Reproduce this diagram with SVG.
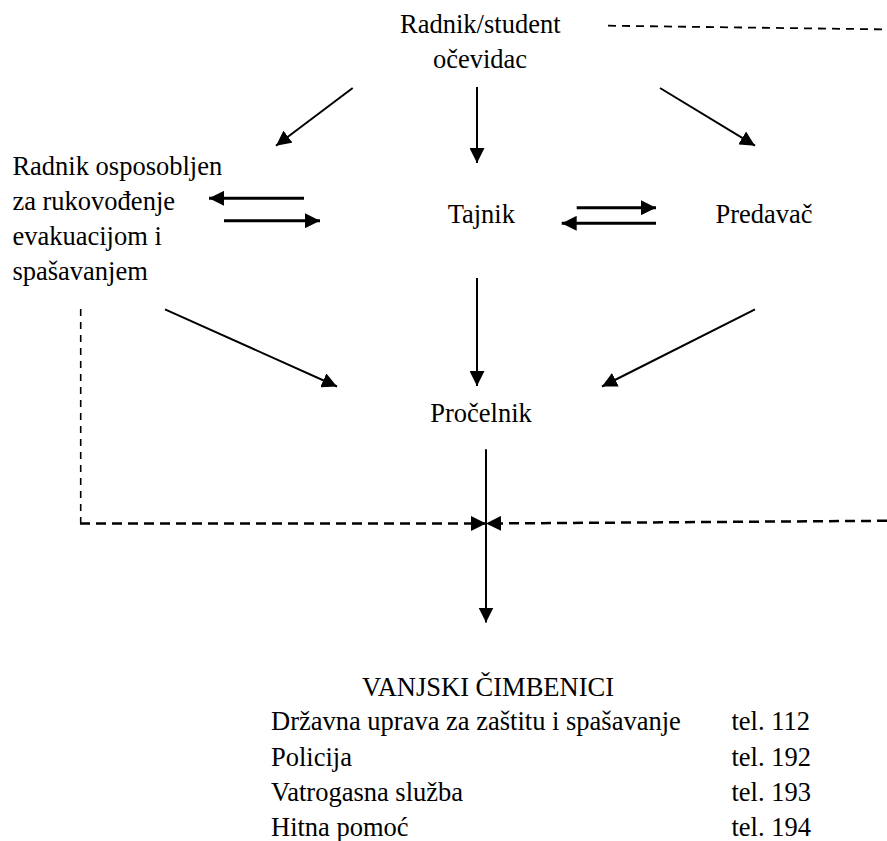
<svg xmlns="http://www.w3.org/2000/svg" width="887" height="841" viewBox="0 0 887 841" font-family="'Liberation Serif', 'DejaVu Serif', serif" font-size="26.5">
<style>
text{font-family:'Liberation Serif','DejaVu Serif',serif;font-size:26.5px;fill:#000}
.c{text-anchor:middle}
.ln{stroke:#000;fill:none;stroke-width:2}
.thick{stroke-width:3}
.dt{stroke:#000;fill:none;stroke-width:1.8;stroke-dasharray:8 6}
.dv{stroke:#000;fill:none;stroke-width:1.6;stroke-dasharray:7 6}
.dh{stroke:#000;fill:none;stroke-width:2.5;stroke-dasharray:10 6}
</style>
<defs>
<marker id="ah" markerUnits="userSpaceOnUse" viewBox="0 0 15 15" markerWidth="15" markerHeight="15" refX="15" refY="7.5" orient="auto">
<path d="M0,0 L15,7.5 L0,15 z" fill="#000"/>
</marker>
</defs>
<rect width="887" height="841" fill="#fff"/>
<g id="connectors">
<line class="ln" x1="352.7" y1="88" x2="276" y2="145.7" marker-end="url(#ah)"/>
<line class="ln" x1="477" y1="87" x2="477" y2="163" marker-end="url(#ah)"/>
<line class="ln" x1="660" y1="88" x2="755" y2="145.7" marker-end="url(#ah)"/>
<line class="ln thick" x1="304" y1="198.3" x2="209" y2="198.3" marker-end="url(#ah)"/>
<line class="ln thick" x1="224" y1="220.7" x2="320" y2="220.7" marker-end="url(#ah)"/>
<line class="ln thick" x1="576.7" y1="207.7" x2="656" y2="207.7" marker-end="url(#ah)"/>
<line class="ln thick" x1="656" y1="223.3" x2="561.7" y2="223.3" marker-end="url(#ah)"/>
<line class="ln" x1="477" y1="278" x2="477" y2="386" marker-end="url(#ah)"/>
<line class="ln" x1="165" y1="309.3" x2="337" y2="386.5" marker-end="url(#ah)"/>
<line class="ln" x1="755" y1="309.3" x2="602" y2="386.5" marker-end="url(#ah)"/>
<line class="ln" x1="486" y1="449.3" x2="486" y2="622.5" marker-end="url(#ah)"/>
<line class="dt" x1="608" y1="25.7" x2="887" y2="29.4"/>
<line class="dv" x1="80.7" y1="309" x2="80.7" y2="523.5"/>
<line class="dh" x1="80" y1="523.5" x2="486" y2="523.5" marker-end="url(#ah)"/>
<line class="dh" x1="887" y1="520.8" x2="486" y2="523.5" marker-end="url(#ah)"/>
</g>
<g id="node-ocevidac">
<text class="c" x="480.3" y="33.3">Radnik/student</text>
<text class="c" x="480" y="68.3">očevidac</text>
</g>
<g id="node-radnik-osposobljen">
<text x="12.4" y="175">Radnik osposobljen</text>
<text x="12.4" y="210">za rukovođenje</text>
<text x="12.4" y="245">evakuacijom i</text>
<text x="12.4" y="280">spašavanjem</text>
</g>
<g id="node-tajnik">
<text class="c" x="481.3" y="223.3">Tajnik</text>
</g>
<g id="node-predavac">
<text x="715.5" y="222.7">Predavač</text>
</g>
<g id="node-procelnik">
<text class="c" x="481" y="421.7">Pročelnik</text>
</g>
<g id="node-vanjski">
<text class="c" x="488" y="695.5">VANJSKI ČIMBENICI</text>
<text x="271" y="730">Državna uprava za zaštitu i spašavanje</text>
<text x="731.4" y="730">tel. 112</text>
<text x="271" y="766">Policija</text>
<text x="731.4" y="766">tel. 192</text>
<text x="271" y="801">Vatrogasna služba</text>
<text x="731.4" y="801">tel. 193</text>
<text x="271" y="835.5">Hitna pomoć</text>
<text x="731.4" y="835.5">tel. 194</text>
</g>
</svg>
